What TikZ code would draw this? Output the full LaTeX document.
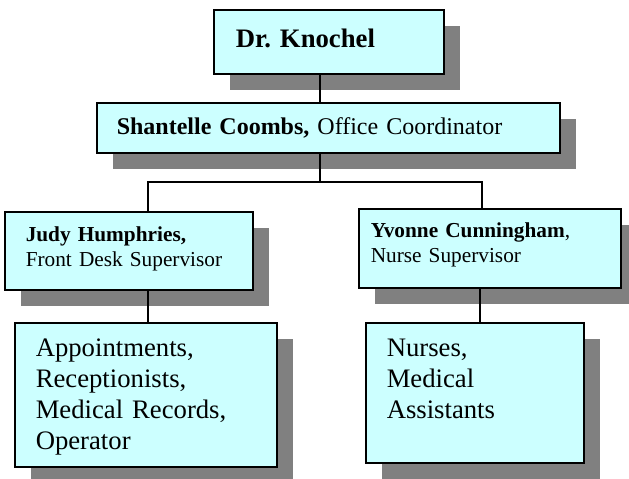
\documentclass[tikz,border=0pt]{standalone}
\usepackage{fontspec}
\setmainfont{Liberation Serif}
\usetikzlibrary{shadows}
\definecolor{boxcyan}{HTML}{CCFFFF}
\definecolor{shadowgray}{HTML}{808080}
\frenchspacing
\begin{document}
\begin{tikzpicture}[x=1pt, y=-1pt,
    orgbox/.style={draw, line width=1.5pt, fill=boxcyan, anchor=north west, inner ysep=0pt, align=left,
      drop shadow={shadow xshift=16pt, shadow yshift=-16pt, fill=shadowgray, opacity=1}},
    link/.style={line width=1.3pt},
    bigtext/.style={font=\fontsize{26.7}{31}\selectfont},
    midtext/.style={font=\fontsize{24}{28}\selectfont},
    smalltext/.style={font=\fontsize{21.3}{24.5}\selectfont}]
  \useasboundingbox (0,0) rectangle (629,479);
  % box = text width + 2 inner xsep; height = text height + text depth (first baseline from the top)
  \node[orgbox, bigtext, inner xsep=22pt, text width=186pt, text height=37.5pt, text depth=26.5pt] (boss) at (213,9)
    {\textbf{Dr. Knochel}};
  \node[orgbox, midtext, inner xsep=20pt, text width=423pt, text height=32pt, text depth=18pt] (coord) at (96,102)
    {\textbf{Shantelle Coombs,} Office Coordinator};
  \node[orgbox, smalltext, inner xsep=21pt, text width=206pt, text height=30pt, text depth=48pt] (judy) at (4,211)
    {\textbf{Judy Humphries,}\\Front Desk Supervisor};
  \node[orgbox, smalltext, inner xsep=12pt, text width=238pt, text height=29pt, text depth=50pt] (yvonne) at (358,208)
    {\textbf{Yvonne Cunningham},\\Nurse Supervisor};
  \node[orgbox, bigtext, inner xsep=21pt, text width=220pt, text height=34pt, text depth=110pt] (appts) at (14,322)
    {Appointments,\\Receptionists,\\Medical Records,\\Operator};
  \node[orgbox, bigtext, inner xsep=21pt, text width=176pt, text height=34pt, text depth=106pt] (nurses) at (365,322)
    {Nurses,\\Medical\\Assistants};
  % the bar under the coordinator
  \coordinate (trunk) at (320,182);
  \coordinate (lefttap) at (148,182);
  \coordinate (righttap) at (482,182);
  \draw[link] (boss.south -| trunk) -- (coord.north -| trunk);
  \draw[link] (coord.south -| trunk) -- (trunk);
  \draw[link] (judy.north -| lefttap) -- (lefttap) -- (righttap) -- (yvonne.north -| righttap);
  \draw[link] (judy.south -| lefttap) -- (appts.north -| lefttap);
  \draw[link] ([xshift=-2pt]yvonne.south -| righttap) -- ([xshift=-2pt]nurses.north -| righttap);
\end{tikzpicture}
\end{document}
